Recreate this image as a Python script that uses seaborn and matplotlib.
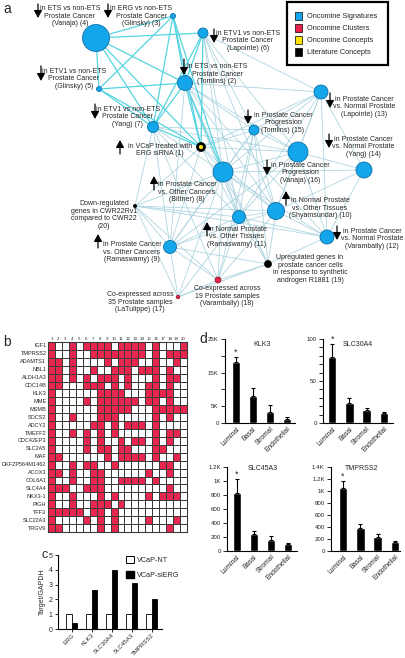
import numpy as np
import pandas as pd
import matplotlib
matplotlib.use("Agg")
import matplotlib.pyplot as plt
import seaborn as sns
from matplotlib.colors import ListedColormap
from matplotlib.patches import Circle, Rectangle, Patch
from matplotlib import font_manager

# ---------------- data ----------------
node_ids = list(range(1, 21))
node_type = {1: "concept", 17: "cluster", 18: "cluster", 19: "literature", 20: "literature"}
node_radius = {1: 3.5, 2: 7.5, 3: 2.5, 4: 13.5, 5: 2.5, 6: 5, 7: 5.5, 8: 10, 9: 6.5, 10: 8.5,
               11: 6.5, 12: 7, 13: 7, 14: 8, 15: 5, 16: 10, 17: 1.8, 18: 3, 19: 3.5, 20: 1.6}
node_text = {
    4: "in ETS vs non-ETS\nProstate Cancer\n(Vanaja) (4)",
    3: "in ERG vs non-ETS\nProstate Cancer\n(Glinsky) (3)",
    6: "in ETV1 vs non-ETS\nProstate Cancer\n(Lapointe) (6)",
    2: "in ETS vs non-ETS\nProstate Cancer\n(Tomlins) (2)",
    5: "in ETV1 vs non-ETS\nProstate Cancer\n(Glinsky) (5)",
    7: "in ETV1 vs non-ETS\nProstate Cancer\n(Yang) (7)",
    1: "in VCaP treated with\nERG siRNA (1)",
    13: "in Prostate Cancer\nvs. Normal Prostate\n(Lapointe) (13)",
    15: "in Prostate Cancer\nProgression\n(Tomlins) (15)",
    14: "in Prostate Cancer\nvs. Normal Prostate\n(Yang) (14)",
    16: "in Prostate Cancer\nProgression\n(Vanaja) (16)",
    8: "in Prostate Cancer\nvs. Other Cancers\n(Bittner) (8)",
    10: "in Normal Prostate\nvs. Other Tissues\n(Shyamsundar) (10)",
    20: "Down-regulated\ngenes in CWR22Rv1\ncompared to CWR22\n(20)",
    11: "in Normal Prostate\nvs. Other Tissues\n(Ramaswamy) (11)",
    12: "in Prostate Cancer\nvs. Normal Prostate\n(Varambally) (12)",
    9: "in Prostate Cancer\nvs. Other Cancers\n(Ramaswamy) (9)",
    19: "Upregulated genes in\nprostate cancer cells\nin response to synthetic\nandrogen R1881 (19)",
    18: "Co-expressed across\n19 Prostate samples\n(Varambally) (18)",
    17: "Co-expressed across\n35 Prostate samples\n(LaTulippe) (17)",
}
node_direction = {4: "down", 3: "down", 6: "down", 2: "down", 5: "down", 7: "down", 1: "up",
                  13: "down", 15: "down", 14: "down", 16: "down", 8: "up", 10: "up", 11: "up",
                  12: "down", 9: "up"}
edges_ets = [(4, 3), (4, 6), (4, 5), (4, 2), (4, 1), (4, 7), (3, 5), (3, 7), (3, 2), (3, 1), (3, 8),
             (5, 7), (5, 1), (6, 2), (6, 7), (6, 1), (7, 1), (2, 1), (2, 7), (2, 8), (5, 2)]
edges_other = [(6, 13), (6, 8), (6, 10), (6, 11), (6, 16), (6, 15), (2, 13), (2, 15), (2, 16), (2, 10),
               (2, 11), (2, 12), (2, 19), (2, 9), (7, 15), (7, 16), (7, 8), (7, 9), (7, 20), (7, 18),
               (7, 11), (1, 15), (1, 16), (1, 8), (1, 9), (1, 11), (1, 20), (1, 13), (1, 10),
               (13, 15), (13, 16), (13, 8), (13, 14), (13, 10), (13, 12), (13, 11),
               (15, 8), (15, 16), (15, 10), (15, 11), (15, 9), (15, 19), (15, 18),
               (16, 8), (16, 14), (16, 10), (16, 11), (16, 12), (16, 9), (14, 8), (14, 10), (14, 12),
               (8, 10), (8, 11), (8, 12), (8, 9), (8, 19), (8, 18), (8, 17), (8, 20),
               (10, 11), (10, 12), (10, 9), (10, 19), (10, 18), (11, 12), (11, 9), (11, 19), (11, 18),
               (11, 17), (11, 20), (12, 19), (12, 20), (9, 20), (9, 18), (9, 17), (9, 19),
               (20, 17), (20, 18), (20, 10), (19, 18), (19, 17), (18, 17)]
legend_labels = ["Oncomine Signatures", "Oncomine Clusters", "Oncomine Concepts", "Literature Concepts"]

heat_genes = ["IGF1", "TMPRSS2", "ADAMTS1", "NBL1", "ALDH1A3", "CDC14B", "KLK3", "MME", "MSMB",
              "SOCS2", "ADCY2", "TMEFF2", "CDC42EP3", "SLC2A5", "MAF", "DKFZP564M1462", "ACOX3",
              "COL6A1", "SLC4A4", "NKX3-1", "PIGH", "TFF3", "SLC22A3", "TRGV9"]
heat_hits = [
    [1, 4, 6, 7, 8, 9, 11, 12, 13, 14, 16, 20],
    [1, 4, 7, 8, 9, 10, 11, 12, 13, 14, 16, 18, 19, 20],
    [1, 2, 4, 9, 11, 12, 13, 16, 19],
    [1, 2, 4, 7, 10, 11, 12, 14, 15, 16, 18],
    [1, 2, 4, 6, 8, 9, 10, 12, 16, 18, 19],
    [1, 2, 6, 7, 8, 10, 12, 15, 16, 18],
    [1, 8, 9, 10, 11, 15, 16, 17, 18],
    [1, 6, 8, 9, 10, 11, 12, 13, 15, 16, 18],
    [1, 8, 9, 10, 11, 12, 16, 17, 18, 19, 20],
    [1, 4, 8, 9, 10, 16, 18],
    [1, 7, 8, 10, 12, 13, 14, 16],
    [1, 4, 6, 8, 10, 16, 18, 19],
    [1, 6, 8, 11, 13, 14, 16, 18],
    [1, 6, 8, 9, 11, 12, 16, 17],
    [1, 2, 9, 11, 12, 13, 14, 16, 19],
    [1, 4, 6, 7, 10, 17, 18],
    [1, 2, 4, 7, 8, 15, 18],
    [1, 4, 7, 8, 11, 12, 13, 14, 16],
    [1, 2, 3, 6, 7, 8, 18],
    [1, 4, 8, 10, 15, 17, 18, 19],
    [1, 4, 7, 8, 9, 11],
    [1, 2, 3, 4, 5, 7, 8, 10],
    [1, 6, 8, 10, 15, 19],
    [1, 2, 8, 10, 18],
]
heat_cols = [str(i) for i in range(1, 21)]

c_genes = ["ERG", "KLK3", "SLC30A4", "SLC45A3", "TMPRSS2"]
c_nt = [1, 1, 1, 1, 1]
c_sierg = [0.4, 2.65, 4.0, 3.1, 2.05]
c_conditions = ["VCaP-NT", "VCaP-siERG"]

d_cells = ["Luminal", "Basal", "Stromal", "Endothelial"]
klk3_mean = [18100, 8100, 3300, 1200]
klk3_err = [1500, 2400, 2100, 600]
slc30a4_mean = [78, 24, 16, 12]
slc30a4_err = [16, 6, 1.5, 0.8]
slc45a3_mean = [829, 243, 157, 100]
slc45a3_err = [200, 43, 57, 8]
tmprss2_mean = [1050, 383, 233, 150]
tmprss2_err = [117, 67, 50, 17]

# ---------------- style ----------------
sns.set_theme(style="ticks")
avail = {f.name for f in font_manager.fontManager.ttflist}
FONT = next(f for f in ["Liberation Sans Narrow", "Liberation Sans", "DejaVu Sans"] if f in avail)
plt.rcParams["font.family"] = [FONT, "DejaVu Sans"]

W, H = 405, 658
fig = plt.figure(figsize=(W / 100, H / 100), dpi=100)
fig.patch.set_facecolor("white")


def add_ax(l, t, r, b):
    return fig.add_axes([l / W, 1 - b / H, (r - l) / W, (b - t) / H])


def ftxt(x, y, s, **kw):
    return fig.text(x / W, 1 - y / H, s, **kw)


SIG, SIG_E = "#13a6ea", "#0d6fa8"
CLU, CLU_E = "#e8204a", "#8a1020"
CON = "#ffe600"
RED = "#e8264f"
FS = 5.0

# ---------------- panel a: network ----------------
pos = {1: (201, 147), 2: (185, 83), 3: (173, 16), 4: (96, 38), 5: (99, 89), 6: (203, 33),
       7: (153, 127), 8: (223, 172), 9: (170, 247), 10: (276, 211), 11: (239, 217),
       12: (327, 237), 13: (321, 92), 14: (364, 170), 15: (254, 130), 16: (298, 152),
       17: (178, 297), 18: (218, 280), 19: (268, 264), 20: (135, 206)}
label_pos = {4: (70, 16), 3: (141, 16), 6: (248, 41), 2: (217, 74), 5: (74, 79), 7: (128, 117),
             1: (160, 150), 13: (364, 107), 15: (283, 123), 14: (363, 147), 16: (300, 173),
             8: (187, 192), 10: (320, 208), 20: (104, 215), 11: (237, 237), 12: (372, 239),
             9: (132, 252), 19: (310, 269), 18: (227, 296), 17: (140, 302)}
arrow_pos = {4: (38, 4, 18), 3: (108, 4, 18), 6: (214, 29, 43), 2: (184, 59, 75), 5: (41, 66, 81),
             7: (95, 104, 119), 1: (120, 140, 154), 13: (330, 93, 108), 15: (248, 110, 124),
             14: (329, 134, 148), 16: (267, 160, 175), 8: (154, 176, 190), 10: (286, 191, 205),
             11: (207, 222, 236), 12: (337, 226, 240), 9: (98, 234, 248)}

ax_a = add_ax(0, 0, 405, 330)
ax_a.set_xlim(0, 405)
ax_a.set_ylim(330, 0)
ax_a.axis("off")

for a, b in edges_other:
    ax_a.plot([pos[a][0], pos[b][0]], [pos[a][1], pos[b][1]], color="#a9d2de", lw=0.55, zorder=1)
for a, b in edges_ets:
    ax_a.plot([pos[a][0], pos[b][0]], [pos[a][1], pos[b][1]], color="#55d4e0", lw=0.9, zorder=2)

for n in node_ids:
    t = node_type.get(n, "signature")
    x, y = pos[n]
    r = node_radius[n]
    if t == "signature":
        ax_a.add_patch(Circle((x, y), r, facecolor=SIG, edgecolor=SIG_E, lw=0.6, zorder=3))
    elif t == "cluster":
        ax_a.add_patch(Circle((x, y), r, facecolor=CLU, edgecolor=CLU_E, lw=0.5, zorder=3))
    elif t == "concept":
        ax_a.add_patch(Circle((x, y), r, facecolor=CON, edgecolor="black", lw=2.0, zorder=3))
    else:
        ax_a.add_patch(Circle((x, y), r, facecolor="black", edgecolor="black", lw=0.5, zorder=3))

for n, s in node_text.items():
    x, y = label_pos[n]
    ax_a.text(x, y, s, ha="center", va="center", fontsize=FS, linespacing=1.1, zorder=5)
for n, d in node_direction.items():
    x, y0, y1 = arrow_pos[n]
    start, end = ((x, y0), (x, y1)) if d == "down" else ((x, y1), (x, y0))
    ax_a.annotate("", xy=end, xytext=start,
                  arrowprops=dict(arrowstyle="-|>,head_length=0.55,head_width=0.3", color="black",
                                  lw=0.9, shrinkA=0, shrinkB=0, mutation_scale=8), zorder=5)

ax_a.add_patch(Rectangle((287, 2), 101, 63, facecolor="white", edgecolor="black", lw=1.6, zorder=6))
for i, (lab, col) in enumerate(zip(legend_labels, [SIG, CLU, CON, "black"])):
    yy = 16 + 12 * i
    ax_a.add_patch(Rectangle((294.5, yy - 3.8), 7.5, 7.5, facecolor=col, edgecolor="black", lw=0.5, zorder=7))
    ax_a.text(307, yy, lab, fontsize=5.3, va="center", ha="left", zorder=7)

ftxt(3, 9, "a", fontsize=10, va="center", ha="left")

# ---------------- panel b: heatmap ----------------
mat = np.zeros((len(heat_genes), len(heat_cols)))
for i, hits in enumerate(heat_hits):
    for c in hits:
        mat[i, c - 1] = 1
df_heat = pd.DataFrame(mat, index=heat_genes, columns=heat_cols)
ax_b = add_ax(48, 342, 187, 532)
sns.heatmap(df_heat, ax=ax_b, cmap=ListedColormap(["white", RED]), cbar=False,
            linewidths=0.6, linecolor="#3a3a3a", vmin=0, vmax=1,
            xticklabels=heat_cols, yticklabels=heat_genes)
ax_b.xaxis.tick_top()
ax_b.tick_params(axis="x", length=0, labelsize=3.2, pad=0.8, rotation=0)
ax_b.tick_params(axis="y", length=0, labelsize=4.0, pad=1.2, rotation=0)
for sp in ax_b.spines.values():
    sp.set_visible(True)
    sp.set_color("#3a3a3a")
    sp.set_linewidth(0.8)
ax_b.set_xlabel("")
ax_b.set_ylabel("")
ftxt(3, 342, "b", fontsize=10, va="center", ha="left")

# ---------------- panel c: grouped bars ----------------
df_c = pd.DataFrame({
    "gene": c_genes * 2,
    "cond": [c_conditions[0]] * len(c_genes) + [c_conditions[1]] * len(c_genes),
    "value": c_nt + c_sierg,
})
ax_c = add_ax(58, 555, 162, 629)
sns.barplot(data=df_c, x="gene", y="value", hue="cond", palette=["white", "black"],
            edgecolor="black", linewidth=0.6, width=0.55, ax=ax_c, legend=False)
ax_c.set_xlim(-0.68, 4.5)
ax_c.set_ylim(0, 5)
ax_c.set_yticks(range(6))
ax_c.set_xlabel("")
ax_c.set_ylabel("Target/GAPDH", fontsize=5.0, labelpad=2)
ax_c.tick_params(axis="y", labelsize=5.0, length=2.5, width=0.7, pad=1.5)
ax_c.tick_params(axis="x", labelsize=4.4, length=2.0, width=0.7, pad=0.8)
plt.setp(ax_c.get_xticklabels(), rotation=45, ha="right", rotation_mode="anchor")
sns.despine(ax=ax_c)
for sp in ax_c.spines.values():
    sp.set_linewidth(0.8)
    sp.set_color("black")
handles = [Patch(facecolor="white", edgecolor="black", lw=0.7), Patch(facecolor="black", edgecolor="black")]
ax_c.legend(handles, c_conditions, loc="upper left", bbox_to_anchor=(122 / W, 1 - 552 / H),
            bbox_transform=fig.transFigure, frameon=False, fontsize=5.2, handlelength=1.1,
            handleheight=1.1, labelspacing=1.0, handletextpad=0.5, borderpad=0)
ftxt(41, 555, "c", fontsize=9, va="center", ha="left")

# ---------------- panel d: four bar charts ----------------
def cell_bars(box, mean, err, xlim, ylim, ticks, ticklabels, title, title_xy):
    ax = add_ax(*box)
    df = pd.DataFrame({"cell": d_cells, "value": mean})
    sns.barplot(data=df, x="cell", y="value", color="black", width=0.5, ax=ax, saturation=1)
    ax.errorbar(range(len(d_cells)), mean, yerr=[np.zeros(len(err)), err], fmt="none",
                ecolor="black", elinewidth=0.8, capsize=1.5, capthick=0.8)
    ax.annotate("*", xy=(0, mean[0] + err[0]), xytext=(0, 0.5), textcoords="offset points",
                ha="center", va="bottom", fontsize=6.5, annotation_clip=False)
    ax.set_xlim(*xlim)
    ax.set_ylim(*ylim)
    ax.set_yticks(ticks)
    ax.set_yticklabels(ticklabels)
    ax.set_xlabel("")
    ax.set_ylabel("")
    ax.tick_params(axis="y", labelsize=4.4, length=3, width=0.7, pad=1.5)
    ax.tick_params(axis="x", labelsize=4.8, length=0, pad=2)
    plt.setp(ax.get_xticklabels(), rotation=45, ha="right", rotation_mode="anchor")
    sns.despine(ax=ax)
    for sp in ax.spines.values():
        sp.set_linewidth(0.8)
        sp.set_color("black")
    ftxt(title_xy[0], title_xy[1], title, fontsize=5.0, ha="center", va="center")
    return ax


cell_bars((225, 339, 295, 423), klk3_mean, klk3_err, (-0.65, 3.47), (0, 25000),
          [0, 5000, 10000, 15000, 20000, 25000], ["0", "5K", "", "15K", "", "25K"], "KLK3", (262, 344))
cell_bars((323, 339, 393, 423), slc30a4_mean, slc30a4_err, (-0.53, 3.53), (0, 100),
          list(range(0, 101, 10)), ["0", "", "", "", "", "50", "", "", "", "", "100"], "SLC30A4", (358, 344))
cell_bars((227, 467, 297, 551), slc45a3_mean, slc45a3_err, (-0.58, 3.53), (0, 1200),
          list(range(0, 1201, 200)), ["0", "200", "400", "600", "800", "1K", "1.2K"], "SLC45A3", (263, 469))
cell_bars((331, 467, 400, 551), tmprss2_mean, tmprss2_err, (-0.7, 3.3), (0, 1400),
          list(range(0, 1401, 200)), ["0", "200", "400", "600", "800", "1K", "1.2K", "1.4K"], "TMPRSS2", (362, 469))
ftxt(199, 339, "d", fontsize=10, va="center", ha="left")

fig.savefig("out.png", dpi=100, facecolor="white")
